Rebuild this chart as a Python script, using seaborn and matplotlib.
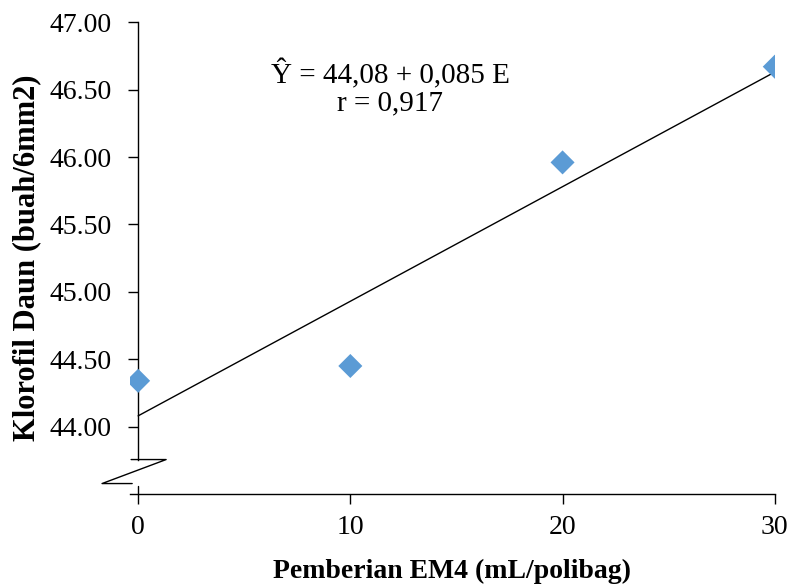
import numpy as np
import pandas as pd
import seaborn as sns
import matplotlib.pyplot as plt

# data
em4 = [0, 10, 20, 30]
klorofil = [44.34, 44.45, 45.96, 46.67]
y_ticks = [44.0, 44.5, 45.0, 45.5, 46.0, 46.5, 47.0]
x_ticks = [0, 10, 20, 30]
eq_text = "Ŷ = 44,08 + 0,085 E"
r_text = "r = 0,917"

df = pd.DataFrame({'em4': em4, 'klorofil': klorofil})

sns.set_style("ticks")
plt.rcParams['font.family'] = ['Liberation Serif', 'DejaVu Serif']
plt.rcParams['text.color'] = 'black'
plt.rcParams['axes.labelcolor'] = 'black'

fig = plt.figure(figsize=(7.93, 5.84), dpi=100)
ax = fig.add_axes([0.164, 0.154, 0.813, 0.808])

# regression line + points
sns.regplot(data=df, x='em4', y='klorofil', ci=None, scatter=False,
            line_kws={'color': 'black', 'lw': 1.0}, ax=ax)
sns.scatterplot(data=df, x='em4', y='klorofil', marker='D', s=150,
                color='#5B9BD5', edgecolor='none', zorder=3, ax=ax)

ax.set_xlim(-0.38, 30)
ax.set_ylim(43.5, 47.0)

ax.spines['right'].set_visible(False)
ax.spines['top'].set_visible(False)
ax.spines['left'].set_position(('data', 0))
ax.spines['left'].set_bounds(43.756, 47.0)
for s in ['left', 'bottom']:
    ax.spines[s].set_linewidth(1.0)
    ax.spines[s].set_color('black')

ax.set_yticks(y_ticks)
ax.set_yticklabels([f'{v:.2f}' for v in y_ticks])
ax.set_xticks(x_ticks)
ax.tick_params(axis='y', direction='out', length=7, width=1.0, pad=12, labelsize=20, colors='black')
ax.tick_params(axis='x', direction='out', length=7, width=1.0, pad=8, labelsize=20, colors='black')

# axis break mark
ax.plot([-0.33, 1.32, -1.70, -0.28], [43.756, 43.756, 43.578, 43.578],
        color='black', lw=1.0, clip_on=False)
ax.plot([0, 0], [43.56, 43.5], color='black', lw=1.0, clip_on=False)

ax.text(11.87, 46.61, eq_text, ha='center', va='center', fontsize=21)
ax.text(11.87, 46.40, r_text, ha='center', va='center', fontsize=21)

ax.set_xlabel('Pemberian EM4 (mL/polibag)', fontsize=20, fontweight='bold', labelpad=14)
ax.set_ylabel('Klorofil Daun (buah/6mm2)', fontsize=22, fontweight='bold', labelpad=6)

fig.savefig('out.png', dpi=100)
